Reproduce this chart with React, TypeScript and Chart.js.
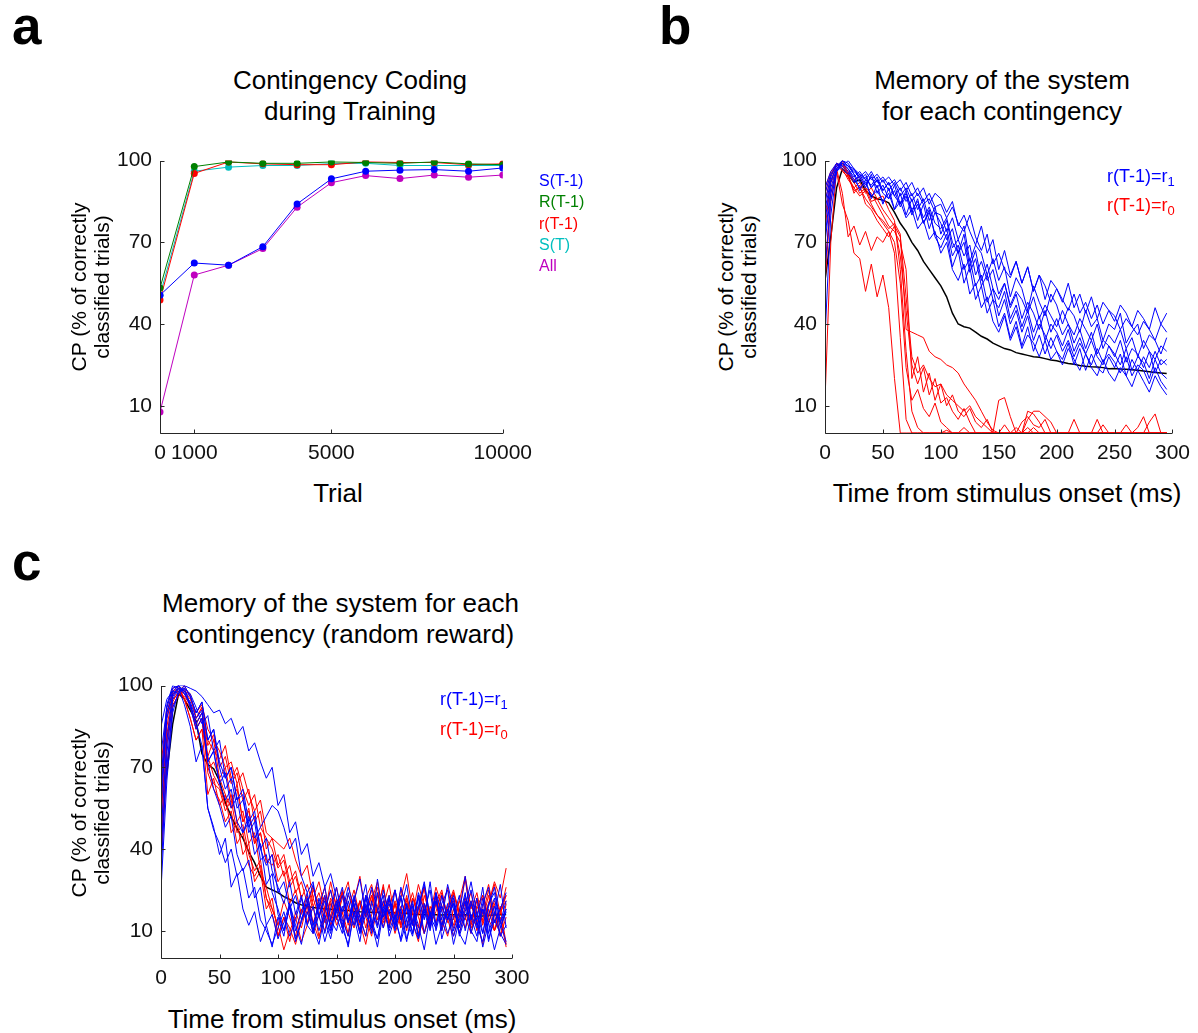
import React, { useEffect, useRef } from "react";
import { Chart, registerables } from "chart.js";

Chart.register(...registerables);

const FONT = '"Liberation Sans", Arial, Helvetica, sans-serif';

// ---------------- Panel a: Contingency coding during training ----------------
const TRIALS = [0, 1000, 2000, 3000, 4000, 5000, 6000, 7000, 8000, 9000, 10000];
const TRIAL_TICKS = [0, 1000, 5000, 10000];
const CP_TICKS = [10, 40, 70, 100];
const CP_S_PREV = [50.6, 62.4, 61.6, 68.4, 84.1, 93.3, 96.1, 96.5, 96.7, 96.1, 97.3];
const CP_R_PREV = [53.2, 97.8, 99.5, 99.0, 99.0, 99.5, 99.3, 99.0, 99.5, 98.8, 98.5];
const CP_REW_PREV = [48.8, 95.3, 99.5, 98.8, 98.5, 98.5, 99.5, 99.3, 99.3, 98.5, 98.8];
const CP_S_CURR = [50.6, 96.1, 97.6, 98.2, 98.2, 98.9, 99.0, 98.2, 98.2, 98.2, 98.2];
const CP_ALL = [7.7, 58.0, 61.6, 67.7, 82.9, 91.9, 94.5, 93.4, 94.7, 93.9, 94.7];
const SERIES_A_NAMES = ["S(T-1)", "R(T-1)", "r(T-1)", "S(T)", "All"];

// ---------------- Time axis (ms) for panels b and c ----------------
const TIME_MS = [
  0, 5, 10, 15, 20, 25, 30, 35, 40, 45,
  50, 55, 60, 65, 70, 75, 80, 85, 90, 95,
  100, 105, 110, 115, 120, 125, 130, 135, 140, 145,
  150, 155, 160, 165, 170, 175, 180, 185, 190, 195,
  200, 205, 210, 215, 220, 225, 230, 235, 240, 245,
  250, 255, 260, 265, 270, 275, 280, 285, 290, 295,
];
const TIME_TICKS = [0, 50, 100, 150, 200, 250, 300];

// ---------------- Panel b: memory of the system ----------------
const B_MEAN = [
  56, 72, 90, 97, 95, 92, 93, 89, 87, 86,
  85.5, 84.5, 81, 77, 74, 70, 67, 63, 60, 57,
  54, 50, 44, 40, 39, 38.5, 37, 35.5, 34.5, 33,
  32, 31, 30.5, 29.5, 29, 28.5, 28, 27.8, 27.3, 26.8,
  26.5, 26, 25.5, 25.2, 24.8, 24.5, 24.3, 24.2, 24, 23.6,
  23.7, 23.5, 23.4, 23.2, 23, 22.8, 22.5, 22.2, 22, 21.8,
];
const B_R1_1 = [85,94,99,98,96,92,95,91,94,90, 93,89,92,87,90,85,88,84,86,81, 80,74,79,71,76,63,69,66,58,64, 56,61,50,57,53,45,54,48,43,51, 47,40,46,43,37,45,39,42,34,40, 38,44,33,37,40,31,36,34,29,35];
const B_R1_2 = [72,90,97,100,98,95,92,94,90,93, 89,92,87,84,88,82,85,79,83,77, 75,79,70,66,73,61,67,56,62,53, 49,55,46,51,42,48,44,38,45,37, 42,36,40,33,38,31,37,29,34,32, 28,34,26,31,29,24,30,22,27,25];
const B_R1_3 = [90,96,99,97,95,97,94,96,93,95, 92,94,91,93,89,92,87,90,84,88, 86,81,85,76,80,74,69,76,66,71, 60,67,58,63,55,61,52,58,49,56, 53,48,55,46,51,44,50,42,48,45, 41,47,44,39,45,42,38,46,40,44];
const B_R1_4 = [60,85,96,99,97,93,90,92,87,89, 85,88,82,85,79,82,75,78,71,74, 66,70,60,56,62,51,55,46,50,41, 37,43,34,39,31,36,33,28,34,27, 30,25,31,27,23,29,24,21,27,22, 19,24,21,17,23,19,15,21,17,14];
const B_R1_5 = [78,92,98,100,99,95,89,93,86,91, 84,90,82,88,80,86,78,84,75,81, 77,71,75,66,70,59,64,54,58,49, 46,52,42,47,39,45,37,43,34,40, 37,32,38,30,35,29,34,28,25,32, 29,25,31,23,28,26,20,27,22,20];
const B_R1_6 = [82,93,97,99,98,96,94,90,95,88, 91,86,89,83,87,80,84,77,81,73, 71,75,65,69,60,64,54,58,48,53, 43,49,40,45,37,43,34,40,36,31, 36,30,34,28,33,29,25,31,26,29, 26,22,28,21,25,23,18,24,19,16];
const B_R1_7 = [35,80,96,100,98,97,95,93,96,92, 94,91,93,89,92,87,90,85,88,83, 84,79,83,77,74,80,72,67,73,62, 66,60,57,63,55,61,52,58,54,48, 53,49,45,51,44,48,42,47,40,45, 43,38,42,39,36,41,38,34,40,37];
const B_R1_8 = [88,95,98,99,97,94,96,93,91,94, 89,92,87,90,85,88,82,86,78,83, 73,78,68,71,65,69,58,63,56,60, 51,55,47,52,49,44,50,42,47,43, 39,45,40,36,42,38,34,40,31,36, 33,38,31,35,28,34,30,27,32,30];
const B_R1_9 = [70,88,96,98,100,97,93,95,90,93, 88,86,91,84,89,81,86,77,82,72, 68,73,61,67,55,61,49,54,44,49, 39,44,35,41,32,39,30,36,29,35, 30,27,33,25,31,23,29,24,22,28, 24,29,21,27,23,28,24,30,25,27];

const B_R0_1 = [88,95,99,97,93,90,92,88,90,86, 87,82,78,60,30,8,2,0,0,0, 0,1,0,0,2,0,0,0,0,0, 0,3,0,0,0,0,2,0,0,0, 0,0,0,0,0,0,0,0,0,0, 0,0,0,0,0,0,0,0,0,0];
const B_R0_2 = [60,88,97,88,72,76,69,74,67,72, 70,74,66,35,5,0,0,0,0,0, 0,0,0,0,0,0,0,0,0,0, 0,0,0,0,0,0,0,0,0,0, 0,0,0,0,0,0,0,0,0,0, 0,0,0,0,0,0,0,0,0,0];
const B_R0_3 = [80,92,96,84,78,66,64,52,62,50, 58,46,20,0,0,0,0,0,0,0, 0,0,0,0,0,0,0,0,0,0, 0,0,0,0,0,0,0,0,0,0, 0,0,0,0,0,0,0,0,0,0, 0,0,0,0,0,0,0,0,0,0];
const B_R0_4 = [85,94,99,96,94,90,87,89,84,80, 78,75,77,73,38,37,36,35,30,28, 27,25,24,22,18,15,12,8,4,1, 0,0,0,0,0,0,0,0,0,0, 0,0,0,0,0,0,0,0,0,0, 0,0,0,0,0,0,0,0,0,0];
const B_R0_5 = [12,70,97,100,95,92,88,90,85,86, 82,79,76,72,50,28,22,25,20,17, 18,14,12,10,8,10,6,4,2,0, 12,13,6,0,0,2,0,0,0,0, 0,0,0,5,0,0,0,0,0,0, 0,0,0,0,0,0,0,0,0,0];
const B_R0_6 = [90,96,98,99,96,93,94,90,88,84, 80,76,74,70,60,20,28,15,22,12, 18,10,14,8,6,9,4,2,5,0, 0,0,0,2,0,8,7,4,0,0, 0,0,0,0,0,0,0,0,3,0, 0,0,0,0,0,0,0,0,0,0];
const B_R0_7 = [75,92,99,98,95,88,91,84,82,78, 75,72,76,65,45,25,18,24,14,20, 11,13,8,5,9,4,0,0,0,0, 0,0,0,0,0,5,8,8,6,4, 0,0,0,0,0,0,0,0,0,0, 0,0,3,0,2,6,0,0,0,0];
const B_R0_8 = [55,85,97,99,94,89,90,86,83,80, 77,74,70,55,24,12,16,9,6,11, 4,2,0,0,0,0,0,0,0,0, 0,0,0,0,4,6,3,2,5,0, 0,0,0,0,0,0,0,5,0,0, 0,0,0,0,0,0,4,7,0,0];

// ---------------- Panel c: random reward ----------------
const C_MEAN = [
  58, 68, 86, 97, 95, 91, 87, 75, 71, 69.5,
  65, 57, 52, 47.5, 44, 39, 35, 30, 26, 25,
  24, 22.5, 21.5, 20.3, 19.5, 19, 18.5, 18.3, 18.1, 17.9,
  17.7, 17.5, 17.4, 17.2, 17, 16.9, 16.8, 16.8, 16.7, 16.7,
  16.6, 16.5, 16.3, 16.1, 16, 15.9, 15.9, 15.9, 15.8, 15.9,
  15.9, 15.8, 15.9, 15.6, 15.2, 15.4, 15.6, 15.8, 15.9, 16,
];
const C_R1_1 = [60,90,98,100,100,99,98,96,93,90, 91,86,88,82,85,76,79,72,66,70, 56,60,46,50,38,42,30,35,26,31, 22,17,26,19,13,23,18,11,21,16, 25,14,19,9,18,27,15,21,12,17, 23,11,19,28,16,9,20,24,13,18];
const C_R1_2 = [45,80,97,99,93,85,72,78,55,48, 38,44,26,31,18,12,17,6,12,4, 15,8,20,12,5,17,10,22,14,7, 18,11,24,15,6,20,13,4,17,23, 10,18,7,14,22,9,17,5,12,20, 8,15,24,10,6,18,13,3,11,17];
const C_R1_3 = [30,75,95,99,98,96,90,94,80,84, 70,62,66,55,58,48,52,40,34,38, 24,28,18,23,14,20,27,15,23,10, 19,26,14,21,29,16,11,24,15,20, 12,26,18,9,23,14,28,12,20,25, 10,17,30,14,22,9,19,26,13,21];
const C_R1_4 = [75,92,99,100,97,93,86,90,72,76, 64,68,55,59,46,50,38,42,27,31, 16,10,19,7,13,20,9,16,6,14, 21,11,5,17,9,23,12,7,19,10, 16,6,14,21,8,18,11,24,7,15, 20,9,5,16,11,22,7,14,9,5];
const C_R1_5 = [85,95,98,97,99,93,86,78,55,47, 42,35,40,30,33,22,26,14,10,5, 11,17,8,14,22,12,9,19,26,14, 10,19,13,23,15,8,21,12,25,16, 12,22,14,8,19,28,15,11,23,14, 20,9,17,25,12,6,16,22,11,18];
const C_R1_6 = [55,88,96,100,98,92,84,88,72,76, 64,58,62,50,46,52,44,48,52,56, 54,48,40,44,30,24,28,15,21,11, 17,23,13,20,9,16,26,18,11,22, 14,7,20,12,24,17,10,21,14,27, 18,11,23,15,8,20,26,13,18,24];
const C_R1_7 = [40,70,92,97,100,96,90,94,80,84, 72,66,70,58,62,50,54,40,44,32, 26,20,28,16,23,12,19,10,17,25, 15,9,21,12,18,27,11,17,23,8, 15,23,11,20,7,17,25,10,19,14, 22,8,15,21,12,18,6,16,27,11];
const C_R1_8 = [25,65,90,98,99,97,92,86,89,76, 80,66,70,58,60,46,50,36,38,24, 18,10,19,6,14,22,11,5,16,9, 20,13,4,17,10,22,14,7,18,11, 25,15,6,19,12,3,16,23,10,18, 5,14,21,9,17,4,13,19,8,12];
const C_R1_9 = [65,93,100,99,97,94,88,91,72,62, 56,48,52,38,32,36,22,26,12,16, 7,13,20,10,17,24,12,20,9,18, 26,14,8,22,13,19,9,29,15,22, 11,18,27,13,7,20,12,24,17,9, 15,23,10,20,14,26,9,17,13,6];

const C_R0_1 = [50,85,96,99,97,93,86,90,78,82, 70,74,64,68,58,62,50,54,40,44, 34,38,28,32,22,27,19,24,16,28, 18,25,13,21,30,16,23,12,19,27, 14,22,31,17,11,23,16,26,19,13, 24,17,29,14,22,12,20,27,16,23];
const C_R0_2 = [40,78,94,98,100,96,88,92,74,80, 66,60,55,64,50,54,42,46,35,38, 28,32,20,25,16,23,13,19,26,14, 22,11,18,25,15,8,21,28,15,23, 12,19,10,22,16,26,11,20,25,14, 21,9,18,24,13,19,27,16,8,20];
const C_R0_3 = [60,90,97,99,98,95,90,93,84,80, 76,70,72,64,68,60,54,58,46,44, 42,40,44,36,30,34,22,28,18,25, 14,22,28,15,21,11,20,26,14,19, 25,12,20,16,27,19,13,23,17,26, 14,21,30,18,24,13,20,28,22,33];
const C_R0_4 = [35,70,92,97,96,93,84,88,70,64, 62,54,58,46,49,38,32,36,22,16, 8,15,11,5,14,19,9,16,22,12, 17,24,12,20,10,18,25,14,21,12, 20,11,17,24,15,9,19,13,23,16, 11,18,14,21,10,17,13,20,8,15];
const C_R0_5 = [70,92,99,100,95,88,80,84,74,67, 63,56,60,50,54,42,46,32,26,18, 12,3,10,15,6,12,19,8,14,21, 12,17,9,22,15,19,10,24,17,11, 20,14,23,12,19,9,16,22,14,8, 18,13,21,11,16,23,14,10,19,5];
const C_R0_6 = [45,82,95,97,99,93,84,88,69,72, 66,70,58,62,50,55,42,46,36,34, 38,30,34,24,28,20,26,18,23,15, 26,16,23,19,12,22,27,17,13,21, 16,25,19,12,23,18,14,21,10,18, 24,15,20,12,21,16,25,13,18,23];
const C_R0_7 = [55,88,98,99,95,88,80,84,60,66, 56,60,46,50,38,42,28,32,18,22, 8,15,6,17,11,20,13,7,18,12, 21,15,8,19,13,5,16,23,11,18, 9,16,21,13,6,19,12,17,24,14, 8,16,11,20,13,5,18,10,15,4];
const C_R0_8 = [65,90,97,98,95,92,86,90,80,76, 73,78,66,70,62,56,60,48,44,40, 33,36,26,30,22,16,25,20,13,22, 17,24,19,12,21,15,23,17,27,13, 21,16,11,22,18,26,14,20,12,19, 25,16,22,13,19,23,15,21,17,26];
const C_R0_9 = [38,80,93,96,98,97,88,92,68,62, 58,50,54,42,46,34,30,34,22,18, 12,21,15,8,18,13,22,15,10,20, 14,24,16,11,21,15,8,19,26,13, 20,12,22,16,9,20,14,24,11,18, 12,21,15,9,19,14,23,10,17,21];

const B_BLUE = [B_R1_1, B_R1_2, B_R1_3, B_R1_4, B_R1_5, B_R1_6, B_R1_7, B_R1_8, B_R1_9];
const B_RED = [B_R0_1, B_R0_2, B_R0_3, B_R0_4, B_R0_5, B_R0_6, B_R0_7, B_R0_8];
const C_BLUE = [C_R1_1, C_R1_2, C_R1_3, C_R1_4, C_R1_5, C_R1_6, C_R1_7, C_R1_8, C_R1_9];
const C_RED = [C_R0_1, C_R0_2, C_R0_3, C_R0_4, C_R0_5, C_R0_6, C_R0_7, C_R0_8, C_R0_9];

const BLUE = "#0000FF";
const RED = "#FF0000";
const GREEN = "#008000";
const CYAN = "#00BFBF";
const MAGENTA = "#BF00BF";
const AXIS = "#262626";

const pts = (xs: number[], ys: number[]) => xs.map((x, i) => ({ x, y: ys[i] }));

const axesPlugin = {
  id: "matlabAxes",
  afterDatasetsDraw(chart: any) {
    const { ctx, chartArea: a, scales } = chart;
    const xs = scales.x;
    const ys = scales.y;
    ctx.save();
    ctx.strokeStyle = AXIS;
    ctx.lineWidth = 1;
    ctx.beginPath();
    const L = Math.round(a.left) + 0.5;
    const B = Math.round(a.bottom) + 0.5;
    ctx.moveTo(L, Math.round(a.top));
    ctx.lineTo(L, B);
    ctx.lineTo(Math.round(a.right), B);
    for (const t of xs.ticks) {
      const px = Math.round(xs.getPixelForValue(t.value)) + 0.5;
      ctx.moveTo(px, B);
      ctx.lineTo(px, B - 4);
    }
    for (const t of ys.ticks) {
      const py = Math.round(ys.getPixelForValue(t.value)) + 0.5;
      ctx.moveTo(L, py);
      ctx.lineTo(L + 4, py);
    }
    ctx.stroke();
    ctx.restore();
  },
};

type PanelProps = {
  left: number;
  top: number;
  width: number;
  height: number;
  yAxisW: number;
  xAxisH: number;
  padTop: number;
  padRight: number;
  xMin: number;
  xMax: number;
  xTicks: number[];
  datasets: any[];
};

function ChartPanel(p: PanelProps) {
  const ref = useRef<HTMLCanvasElement | null>(null);
  useEffect(() => {
    if (!ref.current) return;
    const tickFont = { family: FONT, size: 21 };
    const chart = new Chart(ref.current, {
      type: "line",
      data: { datasets: p.datasets },
      plugins: [axesPlugin],
      options: {
        responsive: false,
        animation: false,
        events: [],
        layout: { padding: { top: p.padTop, right: p.padRight, left: 0, bottom: 0 } },
        plugins: {
          legend: { display: false },
          title: { display: false },
          tooltip: { enabled: false },
        },
        scales: {
          x: {
            type: "linear",
            min: p.xMin,
            max: p.xMax,
            grid: { display: false, drawTicks: false },
            border: { display: false },
            afterBuildTicks: (s: any) => {
              s.ticks = p.xTicks.map((v) => ({ value: v }));
            },
            afterFit: (s: any) => {
              s.height = p.xAxisH;
            },
            ticks: {
              font: tickFont,
              color: "#111",
              padding: 8,
              maxRotation: 0,
              autoSkip: false,
              callback: (v: any) => String(v),
            },
          },
          y: {
            type: "linear",
            min: 0,
            max: 100,
            grid: { display: false, drawTicks: false },
            border: { display: false },
            afterBuildTicks: (s: any) => {
              s.ticks = CP_TICKS.map((v) => ({ value: v }));
            },
            afterFit: (s: any) => {
              s.width = p.yAxisW;
            },
            ticks: {
              font: tickFont,
              color: "#111",
              padding: 8,
              autoSkip: false,
              callback: (v: any) => String(v),
            },
          },
        },
      } as any,
    });
    return () => chart.destroy();
  }, []);
  return (
    <canvas
      ref={ref}
      width={p.width}
      height={p.height}
      style={{ position: "absolute", left: p.left, top: p.top, width: p.width, height: p.height }}
    />
  );
}

function Txt(props: {
  x: number;
  y: number;
  size: number;
  children: any;
  align?: "left" | "center";
  bold?: boolean;
  color?: string;
}) {
  const { x, y, size, children, align = "center", bold, color = "#000" } = props;
  return (
    <div
      style={{
        position: "absolute",
        left: x,
        top: y - 0.8465 * size,
        fontSize: size,
        lineHeight: `${size}px`,
        fontFamily: FONT,
        fontWeight: bold ? "bold" : "normal",
        color,
        whiteSpace: "nowrap",
        transform: align === "center" ? "translateX(-50%)" : undefined,
      }}
    >
      {children}
    </div>
  );
}

function YLabel({ cx, cy }: { cx: number; cy: number }) {
  const w = 300;
  const lh = 23;
  return (
    <div
      style={{
        position: "absolute",
        left: cx - w / 2,
        top: cy - lh,
        width: w,
        height: lh * 2,
        lineHeight: `${lh}px`,
        fontSize: 21,
        fontFamily: FONT,
        color: "#000",
        textAlign: "center",
        whiteSpace: "nowrap",
        transform: "rotate(-90deg)",
      }}
    >
      <div>CP (% of correctly</div>
      <div>classified trials)</div>
    </div>
  );
}

function Sub({ children }: { children: any }) {
  return <span style={{ fontSize: "0.72em", verticalAlign: "-0.28em" }}>{children}</span>;
}

const lineDs = (ys: number[], color: string, width = 1) => ({
  data: pts(TIME_MS, ys),
  borderColor: color,
  borderWidth: width,
  pointRadius: 0,
  tension: 0,
  fill: false,
});

const markerDs = (ys: number[], color: string) => ({
  data: pts(TRIALS, ys),
  borderColor: color,
  backgroundColor: color,
  borderWidth: 1,
  pointRadius: 3.5,
  pointBorderWidth: 0,
  pointBackgroundColor: color,
  tension: 0,
  fill: false,
});

export default function App() {
  const aColors = [BLUE, GREEN, RED, CYAN, MAGENTA];
  const aSeries = [CP_S_PREV, CP_R_PREV, CP_REW_PREV, CP_S_CURR, CP_ALL];
  const aDatasets = aSeries.map((s, i) => ({ label: SERIES_A_NAMES[i], ...markerDs(s, aColors[i]) }));
  const bDatasets = [
    ...B_BLUE.map((s) => lineDs(s, BLUE)),
    ...B_RED.map((s) => lineDs(s, RED)),
    lineDs(B_MEAN, "#000", 1.5),
  ];
  const cDatasets = [
    ...C_BLUE.map((s) => lineDs(s, BLUE)),
    ...C_RED.map((s) => lineDs(s, RED)),
    lineDs(C_MEAN, "#000", 1.5),
  ];
  const legendBaselinesA = [187, 208, 229.5, 250.5, 272];

  return (
    <div
      style={{
        position: "absolute",
        left: 0,
        top: 0,
        width: 1198,
        height: 1033,
        background: "#fff",
        overflow: "hidden",
      }}
    >
      {/* Panel letters */}
      <Txt x={12} y={44} size={53} align="left" bold>a</Txt>
      <Txt x={659} y={44} size={53} align="left" bold>b</Txt>
      <Txt x={12} y={580} size={53} align="left" bold>c</Txt>

      {/* Panel a */}
      <Txt x={350} y={89} size={26}>Contingency Coding</Txt>
      <Txt x={350} y={120.5} size={26}>during Training</Txt>
      <ChartPanel
        left={90}
        top={140}
        width={450}
        height={330}
        yAxisW={70}
        xAxisH={37}
        padTop={18}
        padRight={34}
        xMin={0}
        xMax={10000}
        xTicks={TRIAL_TICKS}
        datasets={aDatasets}
      />
      <YLabel cx={89.5} cy={287} />
      <Txt x={338} y={502} size={26}>Trial</Txt>
      {SERIES_A_NAMES.map((n, i) => (
        <Txt key={n} x={539} y={legendBaselinesA[i]} size={16} align="left" color={aColors[i]}>
          {n}
        </Txt>
      ))}

      {/* Panel b */}
      <Txt x={1002} y={89} size={26}>Memory of the system</Txt>
      <Txt x={1002} y={120.5} size={26}>for each contingency</Txt>
      <ChartPanel
        left={760}
        top={140}
        width={438}
        height={330}
        yAxisW={65}
        xAxisH={37}
        padTop={18}
        padRight={25}
        xMin={0}
        xMax={300}
        xTicks={TIME_TICKS}
        datasets={bDatasets}
      />
      <YLabel cx={736.5} cy={287} />
      <Txt x={1007} y={502} size={26}>Time from stimulus onset (ms)</Txt>
      <Txt x={1107} y={182.5} size={18} align="left" color={BLUE}>
        r(T-1)=r<Sub>1</Sub>
      </Txt>
      <Txt x={1107} y={211.5} size={18} align="left" color={RED}>
        r(T-1)=r<Sub>0</Sub>
      </Txt>

      {/* Panel c */}
      <Txt x={340.5} y={612} size={26}>Memory of the system for each</Txt>
      <Txt x={345} y={643} size={26}>contingency (random reward)</Txt>
      <ChartPanel
        left={90}
        top={665}
        width={450}
        height={330}
        yAxisW={71}
        xAxisH={37}
        padTop={18}
        padRight={28}
        xMin={0}
        xMax={300}
        xTicks={TIME_TICKS}
        datasets={cDatasets}
      />
      <YLabel cx={89.5} cy={813} />
      <Txt x={342} y={1028} size={26}>Time from stimulus onset (ms)</Txt>
      <Txt x={440} y={705.5} size={18} align="left" color={BLUE}>
        r(T-1)=r<Sub>1</Sub>
      </Txt>
      <Txt x={440} y={735} size={18} align="left" color={RED}>
        r(T-1)=r<Sub>0</Sub>
      </Txt>
    </div>
  );
}
